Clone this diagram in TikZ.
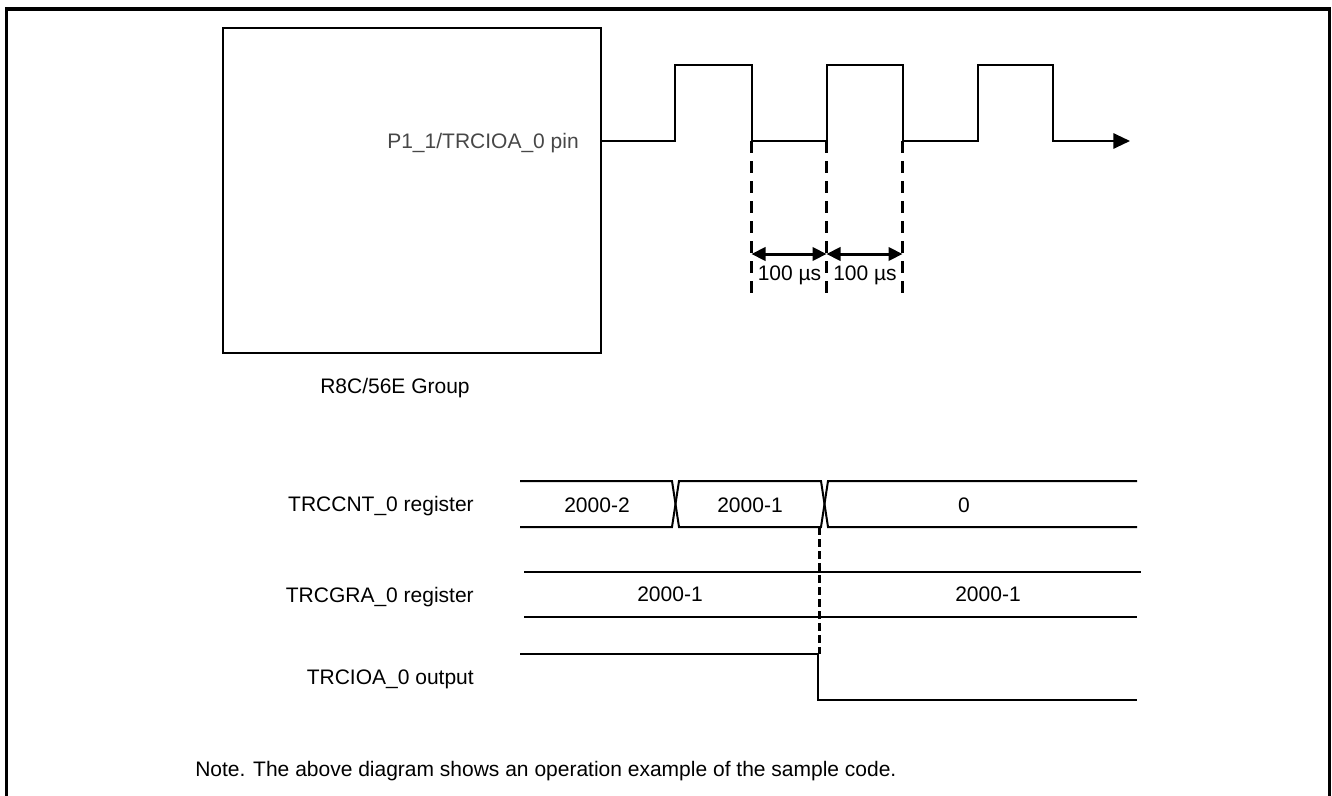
\documentclass[tikz,border=0pt]{standalone}
\usepackage{fontspec}
\setmainfont{Liberation Sans}
\usetikzlibrary{arrows.meta}
\begin{document}
\begin{tikzpicture}[x=0.75pt,y=-0.75pt,
  wire/.style={line width=1.5pt},
  lbl/.style={inner sep=0pt, font=\fontsize{15.75}{18}\selectfont},
  guide/.style={line width=2.25pt, dash pattern=on 9pt off 6pt},
  guidetwo/.style={line width=2.25pt, dash pattern=on 6pt off 3pt},
  dimarrow/.style={line width=2.25pt, {Triangle[length=10.5pt,width=10pt]}-{Triangle[length=10.5pt,width=10pt]}},
  endarrow/.style={-{Triangle[length=12.5pt,width=11.5pt]}}]
\useasboundingbox (0,0) rectangle (1332,796);
% outer frame (open at the bottom)
\draw[line width=2.4pt] (6.5,796) -- (6.5,9) -- (1329.5,9) -- (1329.5,796);

% MCU block
\node[draw, line width=1.5pt, minimum width=283.5pt, minimum height=243.75pt,
      anchor=north west, inner sep=0pt] (mcu) at (222,27) {};
\node[lbl, anchor=base east, text=black!72] (pin) at (579,148.5) {P1\_1/TRCIOA\_0 pin};
\node[lbl, anchor=base] (grp) at (395,393) {R8C/56E Group};

% output waveform
\coordinate (p0) at (600,141);
\coordinate (r1) at (675,141);
\coordinate (r1h) at (675,65);
\coordinate (f1h) at (751.5,65);
\coordinate (f1) at (751.5,141);
\coordinate (r2) at (826.5,141);
\coordinate (r2h) at (826.5,65);
\coordinate (f2h) at (902.5,65);
\coordinate (f2) at (902.5,141);
\coordinate (r3) at (978,141);
\coordinate (r3h) at (978,65);
\coordinate (f3h) at (1053,65);
\coordinate (f3) at (1053,141);
\coordinate (pend) at (1130,141);
\draw[wire, endarrow] (p0) -- (r1) -- (r1h) -- (f1h) -- (f1) -- (r2) -- (r2h) -- (f2h)
  -- (f2) -- (r3) -- (r3h) -- (f3h) -- (f3) -- (pend);

% guides and dimensions
\coordinate (g1) at (751.5,296);
\coordinate (g2) at (826.5,296);
\coordinate (g3) at (902.5,296);
\draw[guide] (f1) -- (g1);
\draw[guide] (r2) -- (g2);
\draw[guide] (f2) -- (g3);
\coordinate (a1) at (751.5,254);
\coordinate (a2) at (826.5,254);
\coordinate (a3) at (902.5,254);
\draw[dimarrow] (a1) -- (a2);
\draw[dimarrow] (a2) -- (a3);
\node[lbl, anchor=base] (t1) at (789.5,280) {100 µs};
\node[lbl, anchor=base] (t2) at (865,280) {100 µs};

% TRCCNT_0 register
\node[lbl, anchor=base east] (lcnt) at (474,511) {TRCCNT\_0 register};
\draw[wire] (520,481) -- (672,481) -- (679,527) -- (821,527) -- (828,481) -- (1137,481);
\draw[wire] (520,527) -- (672,527) -- (679,481) -- (821,481) -- (828,527) -- (1137,527);
\node[lbl, anchor=base] (c1) at (597,512) {2000-2};
\node[lbl, anchor=base] (c2) at (750,512) {2000-1};
\node[lbl, anchor=base] (c3) at (964,512) {0};

% TRCGRA_0 register
\node[lbl, anchor=base east] (lgra) at (474,602) {TRCGRA\_0 register};
\draw[wire] (524,572) -- (1141,572);
\draw[wire] (524,617) -- (1137,617);
\node[lbl, anchor=base] (g1t) at (670,601.5) {2000-1};
\node[lbl, anchor=base] (g2t) at (988,601.5) {2000-1};

% TRCIOA_0 output
\node[lbl, anchor=base east] (lio) at (474,684) {TRCIOA\_0 output};
\coordinate (o0) at (520,654);
\coordinate (o1) at (818,654);
\coordinate (o2) at (818,700);
\coordinate (o3) at (1137,700);
\draw[wire] (o0) -- (o1) -- (o2) -- (o3);

% match guide
\coordinate (m0) at (819,527);
\coordinate (m1) at (819,654);
\draw[guidetwo] (m0) -- (m1);

% note
\node[lbl, anchor=base west] (note) at (195,776) {Note. The above diagram shows an operation example of the sample code.};
\end{tikzpicture}
\end{document}
